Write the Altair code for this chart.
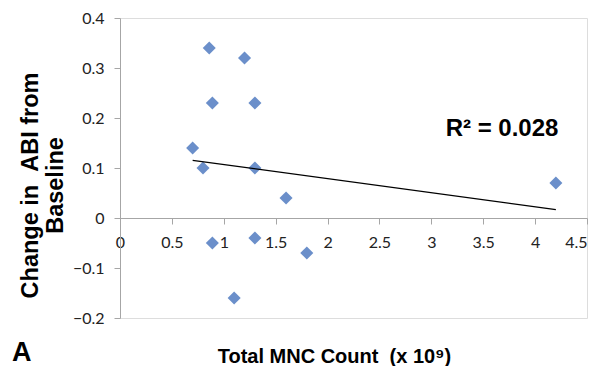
import altair as alt
import pandas as pd

# Data
mnc_count = [0.86, 1.20, 0.89, 1.30, 0.70, 0.80, 1.30, 1.60, 0.89, 1.30, 1.80, 1.10, 4.20]
abi_change = [0.34, 0.32, 0.23, 0.23, 0.14, 0.10, 0.10, 0.04, -0.05, -0.04, -0.07, -0.16, 0.07]
x_ticks = [0, 0.5, 1, 1.5, 2, 2.5, 3, 3.5, 4, 4.5]
y_ticks = [-0.2, -0.1, 0, 0.1, 0.2, 0.3, 0.4]
r2_label = "R\u00b2 = 0.028"
panel_label = "A"
x_title = "Total MNC Count \u00a0(x 10\u2079)"
y_title = ["Change in \u00a0ABI from", "Baseline"]

df = pd.DataFrame({"x": mnc_count, "y": abi_change})

LABEL_FONT = "Lato"
TITLE_FONT = "Liberation Sans"
AXIS_GRAY = "#a6a6a6"

xscale = alt.Scale(domain=[0, 4.5], nice=False, zero=False)
yscale = alt.Scale(domain=[-0.2, 0.4], nice=False, zero=False)

x_enc = alt.X(
    "x:Q",
    scale=xscale,
    axis=alt.Axis(
        values=x_ticks,
        format="~g",
        offset=-100,
        grid=False,
        domainColor=AXIS_GRAY,
        tickColor=AXIS_GRAY,
        tickSize=6,
        labelPadding=10,
        labelFont=LABEL_FONT,
        labelFontSize=16,
        labelColor="#222222",
        labelFlush=False,
        labelOverlap=False,
        labelAlign=alt.condition("datum.value >= 4.5", alt.value("right"), alt.value("center")),
        title=x_title,
        titleFont=TITLE_FONT,
        titleFontSize=20,
        titleFontWeight="bold",
        titleColor="#000000",
        titleX=214,
        titleY=138,
        titleAlign="center",
        titleBaseline="middle",
    ),
)

y_enc = alt.Y(
    "y:Q",
    scale=yscale,
    axis=alt.Axis(
        values=y_ticks,
        format="~g",
        grid=False,
        domainColor=AXIS_GRAY,
        tickColor=AXIS_GRAY,
        tickSize=6,
        labelPadding=10,
        labelFont=LABEL_FONT,
        labelFontSize=16,
        labelColor="#222222",
        labelOverlap=False,
        title=y_title,
        titleFont=TITLE_FONT,
        titleFontSize=23.5,
        titleFontWeight="bold",
        titleColor="#000000",
        titleAngle=-90,
        titleX=-90,
        titleY=167,
        titleAlign="center",
        titleBaseline="middle",
        titleLineHeight=25,
    ),
)

points = alt.Chart(df).mark_point(
    shape="diamond", filled=True, size=170, color="#6b8fca", opacity=1
).encode(x=x_enc, y=y_enc)

trend = (
    alt.Chart(df)
    .transform_regression("x", "y", extent=[0.7, 4.2])
    .mark_line(color="#000000", strokeWidth=1.2)
    .encode(x=alt.X("x:Q", scale=xscale), y=alt.Y("y:Q", scale=yscale))
)

r2 = alt.Chart(pd.DataFrame({"t": [r2_label]})).mark_text(
    font=TITLE_FONT, fontSize=24, fontWeight="bold", color="#000000",
    align="center", baseline="middle"
).encode(text="t:N", x=alt.value(382), y=alt.value(111))

panel = alt.Chart(pd.DataFrame({"t": [panel_label]})).mark_text(
    font=TITLE_FONT, fontSize=27, fontWeight="bold", color="#000000",
    align="left", baseline="middle"
).encode(text="t:N", x=alt.value(-108), y=alt.value(335))

chart = (
    alt.layer(points, trend, r2, panel)
    .properties(
        width=467,
        height=300,
        autosize=alt.AutoSizeParams(type="none"),
        padding={"left": 112, "top": 10, "right": 2, "bottom": 48},
    )
    .configure_view(stroke=None)
    .configure(background="#ffffff")
)

chart.save("out.html", embed_options={"renderer": "svg", "actions": False})
